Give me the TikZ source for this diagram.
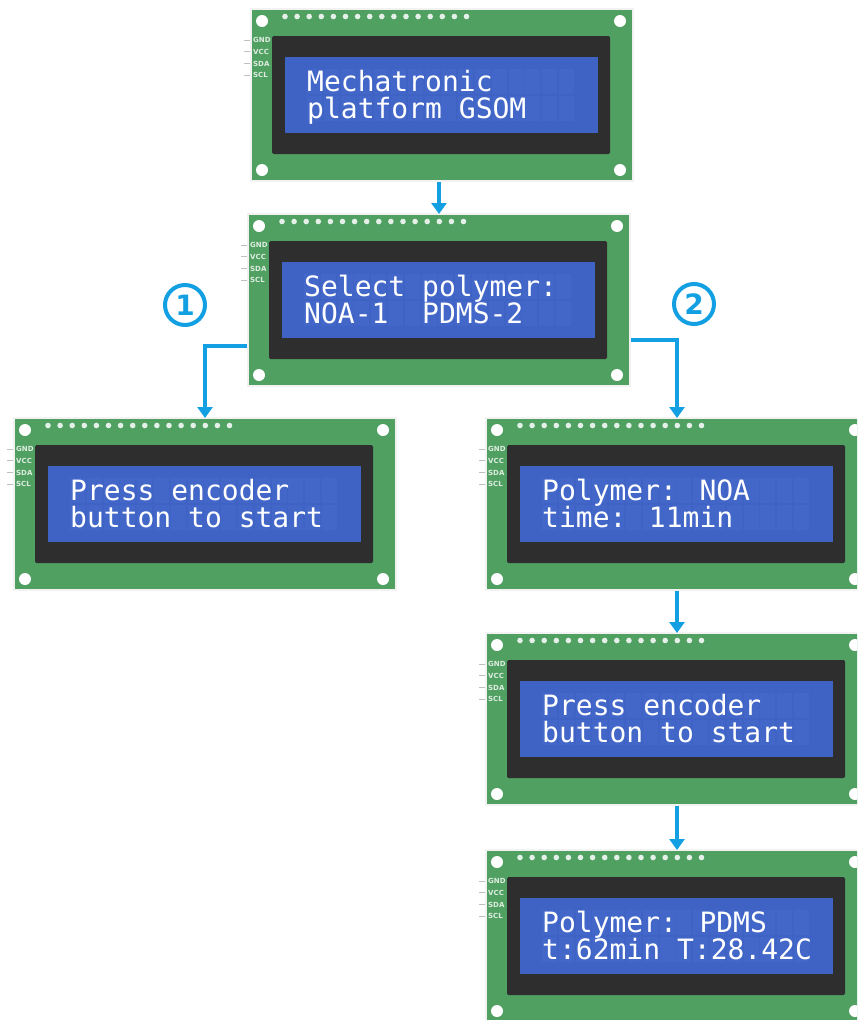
\documentclass[tikz,border=0pt]{standalone}
\usepackage{fontspec}
\usetikzlibrary{arrows.meta,positioning}
\newfontfamily\lcdfont{DejaVu Sans Mono}
\newfontfamily\pinfont{DejaVu Sans}
\definecolor{pcbgreen}{RGB}{80,160,98}
\definecolor{lcdpanel}{RGB}{46,46,46}
\definecolor{lcdblue}{RGB}{62,99,196}
\definecolor{lcdcell}{RGB}{66,103,200}
\definecolor{flowblue}{RGB}{18,160,226}
\definecolor{pintext}{RGB}{222,236,224}
\tikzset{
	board/.style={fill=pcbgreen,minimum width=380pt,minimum height=170pt,inner sep=0pt,outer sep=0pt,anchor=north west},
	lcdtext/.style={text=white,font=\lcdfont\fontsize{28}{28}\selectfont,inner sep=0pt,anchor=base west},
	pin/.style={text=pintext,font=\pinfont\bfseries\fontsize{7}{7}\selectfont,inner sep=0pt,anchor=west},
	flow/.style={draw=flowblue,line width=4pt,shorten <=2pt,shorten >=1pt,-{Triangle[width=15pt,length=11pt]}},
	num/.style={circle,draw=flowblue,line width=4pt,minimum size=40pt,inner sep=0pt,text=flowblue,font=\pinfont\bfseries\fontsize{28}{28}\selectfont}
}
% LCD 1602 board: name, x, y of top left corner, first line, second line
\newcommand{\lcdboard}[5]{%
	\begin{scope}[shift={(#2,#3)}]
		\fill[black!5] (-2,-2) rectangle (382,172);
		\node[board] (#1) at (0,0) {};
		%mounting holes and header pins
		\foreach \hx/\hy in {10/11,368/11,10/160,368/160} \fill[white] (\hx,\hy) circle (6pt);
		\foreach \i in {0,...,15} \fill[white!85!pcbgreen] ({33+12.1*\i},6.5) circle (2.8pt);
		%I2C pins
		\foreach \p [count=\k] in {GND,VCC,SDA,SCL} {
			\draw[black!25,line width=1pt] (-8,{18.5+11.7*\k}) -- (-2,{18.5+11.7*\k});
			\node[pin] (#1-\p) at (1,{18.5+11.7*\k}) {\p};
		}
		%display
		\fill[lcdpanel,rounded corners=1.5pt] (20,26) rectangle (358,144);
		\fill[lcdblue] (33,47) rectangle (346,123);
		\foreach \c in {0,...,15} \foreach \r in {0,1} \fill[lcdcell] ({55+16.8*\c},{59+27*\r}) rectangle +(15,25);
		\node[lcdtext] (#1-top) at (55,81) {#4};
		\node[lcdtext] (#1-bot) at (55,108) {#5};
	\end{scope}}
\begin{document}
\begin{tikzpicture}[x=1pt,y=-1pt]
	\useasboundingbox (0,0) rectangle (857,1020);
	\clip (0,0) rectangle (857,1020);
	%Screens
	\lcdboard{splash}{252}{10}{Mechatronic}{platform GSOM}
	\lcdboard{select}{249}{215}{Select polymer:}{NOA-1\ \ PDMS-2}
	\lcdboard{press1}{15}{419}{Press encoder}{button to start}
	\lcdboard{info}{487}{419}{Polymer: NOA}{time: 11min}
	\lcdboard{press2}{487}{634}{Press encoder}{button to start}
	\lcdboard{run}{487}{851}{Polymer: PDMS}{t:62min T:28.42C}
	%Transitions
	\draw[flow] (splash.south -| select.north) -- (select.north);
	\draw[flow] ([yshift=-46pt]select.west) -| (press1.north);
	\draw[flow] ([yshift=-40pt]select.east) -| (info.north);
	\draw[flow] (info.south) -- (press2.north);
	\draw[flow] (press2.south) -- (run.north);
	\node[num] (one) at (185,305) {1};
	\node[num] (two) at (694,304) {2};
\end{tikzpicture}
\end{document}
